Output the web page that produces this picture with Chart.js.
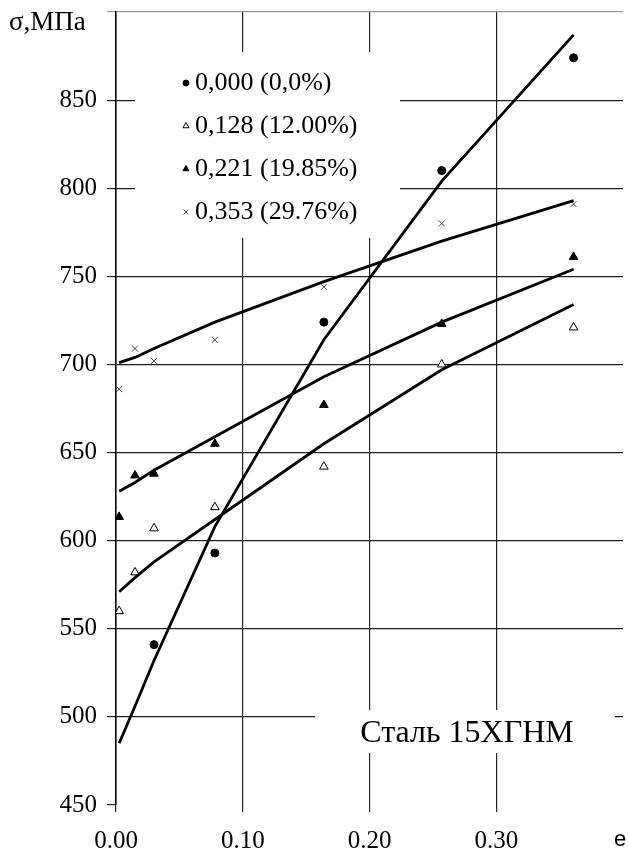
<!DOCTYPE html>
<html>
<head>
<meta charset="utf-8">
<script src="https://cdn.jsdelivr.net/npm/chart.js@4.4.1/dist/chart.umd.min.js"></script>
<style>
  html, body { margin: 0; padding: 0; background: #fff; }
  #wrap { width: 629px; height: 857px; }
</style>
</head>
<body>
<div id="wrap"><canvas id="c" width="629" height="857"></canvas></div>
<script>
// Strain values e at which stresses were measured and the fit evaluated
const strain = [0.0025, 0.015, 0.030, 0.078, 0.164, 0.257, 0.361];

// Series labels: pre-strain (reduction, %)
const seriesLabels = ['0,000 (0,0%)', '0,128 (12.00%)', '0,221 (19.85%)', '0,353 (29.76%)'];

// Measured flow stress, MPa
const measured000 = [null, null, 541, 593, 724, 810, 874];
const measured128 = [560, 582, 607, 619, 642, 700, 721];
const measured221 = [613.5, 637, 638, 655, 677, 723, 761];
const measured353 = [686, 709, 702, 714, 744, 780, 791];

// Fitted curves, MPa
const fit000 = [485, 506, 532, 608, 714, 804, 887];
const fit128 = [571, 579, 588, 612, 655, 697, 734];
const fit221 = [628, 633, 640, 659, 693, 724, 754];
const fit353 = [701, 704, 709, 724, 747, 770, 793];

// Axis ticks
const xTicks = [0.00, 0.10, 0.20, 0.30];
const yTicks = [450, 500, 550, 600, 650, 700, 750, 800, 850];

const steelLabel = 'Сталь 15ХГНМ';
const yTitle = 'σ,МПа';
const xTitle = 'e';

const toPoints = (xs, ys) => xs.map((x, i) => ({ x, y: ys[i] })).filter(p => p.y !== null);

const markerStyles = [
  { pointStyle: 'circle',   radius: 4,   fill: '#000', stroke: '#000', borderWidth: 1 },
  { pointStyle: 'triangle', radius: 5,   fill: '#fff', stroke: '#000', borderWidth: 1 },
  { pointStyle: 'triangle', radius: 5,   fill: '#000', stroke: '#000', borderWidth: 1 },
  { pointStyle: 'crossRot', radius: 4.3, fill: '#444', stroke: '#444', borderWidth: 1 }
];
const measuredSets = [measured000, measured128, measured221, measured353];
const fitSets = [fit000, fit128, fit221, fit353];

const datasets = [];
fitSets.forEach((f, i) => {
  datasets.push({
    label: 'fit ' + seriesLabels[i],
    data: toPoints(strain, f),
    showLine: true,
    borderColor: '#000',
    borderWidth: 2.8,
    pointRadius: 0,
    tension: 0,
    fill: false
  });
});
measuredSets.forEach((m, i) => {
  const s = markerStyles[i];
  datasets.push({
    label: seriesLabels[i],
    data: toPoints(strain, m),
    showLine: false,
    pointStyle: s.pointStyle,
    pointRadius: s.radius,
    pointBackgroundColor: s.fill,
    pointBorderColor: s.stroke,
    pointBorderWidth: s.borderWidth
  });
});

const serif = "'Liberation Serif', 'Times New Roman', serif";

// White panels with the legend, the steel grade and the axis titles
const panelPlugin = {
  id: 'panels',
  beforeDatasetsDraw(chart) {
    const ctx = chart.ctx;
    ctx.save();
    ctx.fillStyle = '#fff';
    ctx.fillRect(135, 52, 265, 186);
    ctx.fillRect(315, 710, 300, 43);

    // legend
    const rows = [83, 126, 169, 212];
    ctx.font = '26px ' + serif;
    ctx.textBaseline = 'middle';
    ctx.textAlign = 'left';
    seriesLabels.forEach((lab, i) => {
      const s = markerStyles[i];
      ctx.fillStyle = s.fill;
      ctx.strokeStyle = s.stroke;
      ctx.lineWidth = 1;
      Chart.helpers.drawPoint(ctx, {
        pointStyle: s.pointStyle,
        radius: s.pointStyle === 'circle' ? 3 : 3.5,
        borderWidth: 1,
        rotation: 0
      }, 186, rows[i]);
      ctx.fillStyle = '#000';
      ctx.fillText(lab, 195, rows[i]);
    });

    // steel grade
    ctx.font = '32px ' + serif;
    ctx.textAlign = 'center';
    ctx.fillStyle = '#000';
    ctx.fillText(steelLabel, 467, 734);

    // axis titles
    ctx.font = '27px ' + serif;
    ctx.textAlign = 'left';
    ctx.textBaseline = 'alphabetic';
    ctx.fillText(yTitle, 9, 30);
    ctx.font = "22px 'Liberation Sans', Arial, sans-serif";
    ctx.textAlign = 'center';
    ctx.textBaseline = 'middle';
    ctx.fillText(xTitle, 620, 840);
    ctx.restore();
  }
};

Chart.defaults.color = '#000';

new Chart(document.getElementById('c'), {
  type: 'scatter',
  data: { datasets },
  options: {
    responsive: false,
    animation: false,
    events: [],
    layout: { padding: { top: 12, right: 0, left: 0, bottom: 0 } },
    plugins: { legend: { display: false }, tooltip: { enabled: false } },
    scales: {
      x: {
        type: 'linear',
        min: 0,
        max: 0.4,
        afterFit(scale) { scale.height = 52; scale.paddingLeft = 0; scale.paddingRight = 0; },
        afterBuildTicks(scale) {
          scale.ticks = xTicks.concat([0.4]).map(v => ({ value: v }));
        },
        border: { display: false },
        grid: {
          color: c => (c.tick && c.tick.value > 0.39) ? 'rgba(0,0,0,0)' : '#222',
          tickColor: c => (c.tick && c.tick.value > 0.39) ? 'rgba(0,0,0,0)' : '#222',
          lineWidth: 1.2,
          tickLength: 7
        },
        ticks: {
          font: { family: serif, size: 25 },
          padding: 14,
          maxRotation: 0,
          autoSkip: false,
          callback: v => v > 0.39 ? '' : v.toFixed(2)
        }
      },
      y: {
        type: 'linear',
        min: 450,
        max: 900,
        afterFit(scale) { scale.width = 116; scale.paddingTop = 0; scale.paddingBottom = 0; },
        afterBuildTicks(scale) {
          scale.ticks = yTicks.concat([900]).map(v => ({ value: v }));
        },
        border: { display: true, color: '#000', width: 1.5 },
        grid: {
          color: c => {
            if (!c.tick) return '#222';
            if (c.tick.value === 900) return '#999';
            if (c.tick.value === 450) return 'rgba(0,0,0,0)';
            return '#222';
          },
          tickColor: c => (c.tick && c.tick.value === 900) ? '#999' : '#222',
          lineWidth: 1.2,
          tickLength: 9
        },
        ticks: {
          font: { family: serif, size: 25 },
          padding: 10,
          autoSkip: false,
          callback: v => v === 900 ? '' : String(v)
        }
      }
    }
  },
  plugins: [panelPlugin]
});
</script>
</body>
</html>
